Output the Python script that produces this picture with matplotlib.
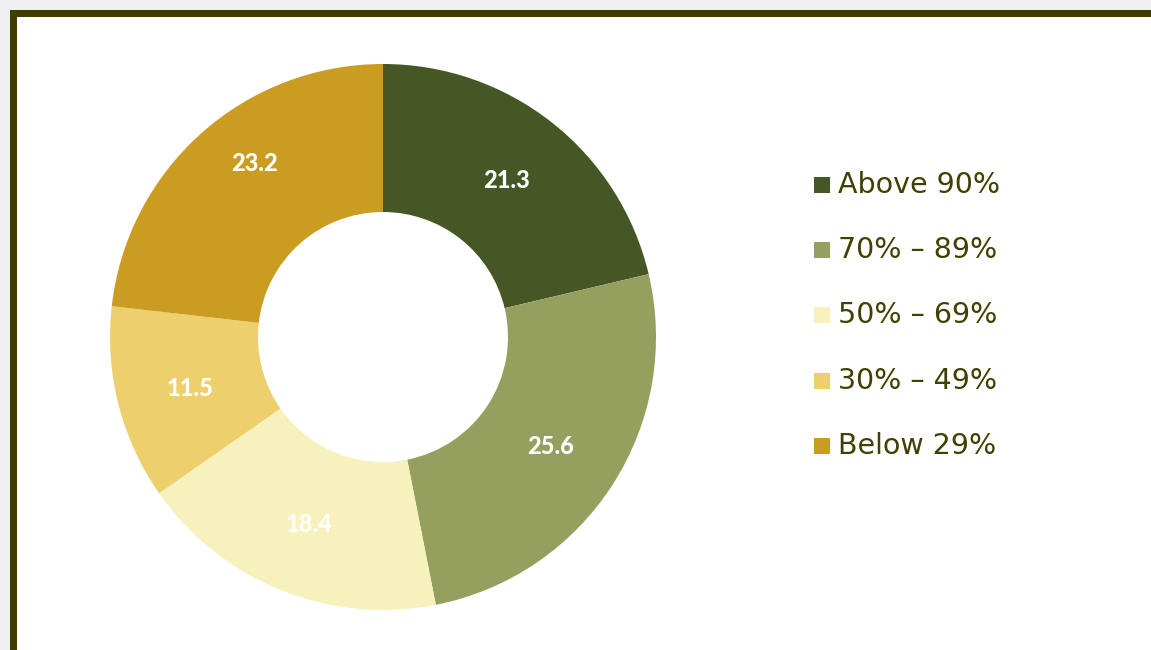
import matplotlib
matplotlib.use("Agg")
import matplotlib.pyplot as plt
from matplotlib.patches import Rectangle
import numpy as np

categories = ["Above 90%", "70% \u2013 89%", "50% \u2013 69%", "30% \u2013 49%", "Below 29%"]
values = [21.3, 25.6, 18.4, 11.5, 23.2]
colors = ["#465726", "#95A05E", "#F7F1BD", "#EDCF6E", "#CB9C22"]

W, H = 1151, 650
fig = plt.figure(figsize=(W / 100, H / 100), dpi=100)
fig.patch.set_facecolor("white")

# Light grey margin outside the frame
fig.add_artist(Rectangle((0, 1 - 10 / H), 1, 10 / H, transform=fig.transFigure,
                         facecolor="#EFEFEF", edgecolor="none", zorder=0))
fig.add_artist(Rectangle((0, 0), 10 / W, 1, transform=fig.transFigure,
                         facecolor="#EFEFEF", edgecolor="none", zorder=0))
# Dark olive frame (top and left edges)
frame_col = "#403D00"
fig.add_artist(Rectangle((10 / W, 1 - 17 / H), 1 - 10 / W, 7 / H, transform=fig.transFigure,
                         facecolor=frame_col, edgecolor="none", zorder=1))
fig.add_artist(Rectangle((10 / W, 0), 7 / W, 1 - 10 / H, transform=fig.transFigure,
                         facecolor=frame_col, edgecolor="none", zorder=1))

# Donut chart
cx, cy, R = 383, 337, 273
ax = fig.add_axes([(cx - R) / W, (H - cy - R) / H, 2 * R / W, 2 * R / H])
inner = 125 / R
width = 1 - inner
wedges, _ = ax.pie(values, colors=colors, startangle=90, counterclock=False,
                   radius=1, wedgeprops=dict(width=width, edgecolor="none"))

# Small nudges (in points) for the data labels
label_shift = [(0, 0), (0, -1), (0, -2), (0, -2), (3, 18)]
for w, v, (sx, sy) in zip(wedges, values, label_shift):
    ang = np.deg2rad((w.theta1 + w.theta2) / 2)
    rr = 1 - width / 2
    ax.annotate(f"{v}", (rr * np.cos(ang), rr * np.sin(ang)),
                xytext=(sx, sy), textcoords="offset points",
                ha="center", va="center", color="white", fontsize=17,
                fontweight="black", family="Lato")
ax.set_xlim(-1, 1)
ax.set_ylim(-1, 1)
ax.axis("off")

# Legend
text_col = "#404000"
y0, dy = 185, 65.2
for i, (lab, c) in enumerate(zip(categories, colors)):
    y = y0 + i * dy
    fig.add_artist(Rectangle((814 / W, 1 - (y + 8) / H), 16 / W, 16 / H,
                             transform=fig.transFigure, facecolor=c, edgecolor="none"))
    fig.text(838 / W, 1 - y / H, lab, ha="left", va="center", fontsize=20.5,
             color=text_col, family="DejaVu Sans")

fig.savefig("out.png", dpi=100, facecolor="white")
